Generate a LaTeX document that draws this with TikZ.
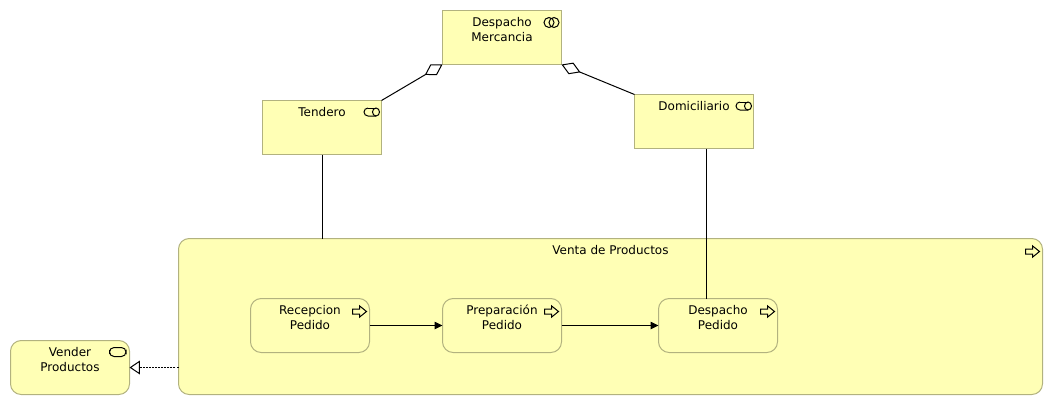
\documentclass[tikz,border=0pt]{standalone}
\usepackage{fontspec}
\setmainfont{DejaVu Sans}
\usetikzlibrary{arrows.meta}
\definecolor{archfill}{HTML}{FFFFB5}
\definecolor{archline}{HTML}{B2B27F}
\begin{document}
\begin{tikzpicture}[
  x=0.75pt, y=0.75pt,
  line width=0.75pt,
  font=\fontsize{9}{11.25}\selectfont,
  block/.style={rectangle, draw=archline, fill=archfill, minimum width=89.25pt, inner sep=0pt, outer sep=0pt, align=center, text height=12pt, text depth=28.5pt},
  process/.style={block, rounded corners=8pt},
  twolines/.style={text height=23.25pt, text depth=17.25pt},
  aggr/.style={-{Kite[open, length=15.4pt, width=9.4pt, inset=7.7pt]}},
  flow/.style={-{Triangle[length=6pt, width=5.6pt]}},
  realize/.style={-{Triangle[open, length=7.7pt, width=10.2pt]}, dash pattern=on 1.5pt off 0.8pt},
  pics/procicon/.style={code={
    \draw (-17,-10.5) -- (-9.8,-10.5) -- (-9.8,-7.5) -- (-3,-13) -- (-9.8,-18.5) -- (-9.8,-15.5) -- (-17,-15.5) -- cycle;
  }},
  pics/roleicon/.style={code={
    \draw (-13.5,-7.5) arc (90:270:4) -- (-5.5,-15.5);
    \draw (-13.5,-7.5) -- (-5.5,-7.5);
    \draw (-5.5,-11.5) circle[x radius=3.5, y radius=4];
  }},
  pics/collabicon/.style={code={
    \draw (-12.5,-12) circle[radius=5];
    \draw (-7.5,-12) circle[radius=5];
  }},
  pics/serviceicon/.style={code={
    \draw[rounded corners=3.4pt] (-20,-7) rectangle (-3.5,-16);
  }}
]
\useasboundingbox (0,0) rectangle (1053,-405);

\node[block, twolines] (mercancia) at (502,-37.5) {Despacho\\Mercancia};
\node[block, left of=mercancia, node distance=135pt, yshift=-67.5pt] (tendero) {Tendero};
\node[block, right of=mercancia, node distance=144pt, yshift=-63pt] (domiciliario) {Domiciliario};
\node[process, below of=mercancia, node distance=209.25pt, xshift=81.375pt, minimum width=648pt, text height=12pt, text depth=105pt] (venta) {Venta de Productos};
\node[process, twolines, below of=mercancia, node distance=216pt] (preparacion) {Preparación\\Pedido};
\node[process, twolines, left of=preparacion, node distance=144pt] (recepcion) {Recepcion\\Pedido};
\node[process, twolines, right of=preparacion, node distance=162pt] (pedido) {Despacho\\Pedido};
\node[process, twolines, left of=recepcion, node distance=180pt, yshift=-31.5pt] (vender) {Vender\\Productos};

\pic at (mercancia.north east) {collabicon};
\pic at (tendero.north east) {roleicon};
\pic at (domiciliario.north east) {roleicon};
\pic at (venta.north east) {procicon};
\pic at (recepcion.north east) {procicon};
\pic at (preparacion.north east) {procicon};
\pic at (pedido.north east) {procicon};
\pic at (vender.north east) {serviceicon};

\draw[aggr] (tendero.north east) -- (mercancia.south west);
\draw[aggr] (domiciliario.north west) -- (mercancia.south east);
\draw (tendero.south) -- (tendero.south |- venta.north);
\draw ([xshift=9.375pt]domiciliario.south) -- ([xshift=9.375pt]domiciliario.south |- pedido.north);
\draw[flow] (recepcion) -- (preparacion);
\draw[flow] (preparacion) -- (pedido);
\draw[realize] (venta.west |- vender.east) -- (vender.east);
\end{tikzpicture}
\end{document}
